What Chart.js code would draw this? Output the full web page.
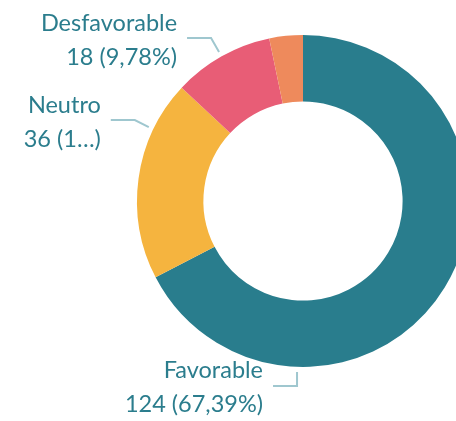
<!DOCTYPE html>
<html>
<head>
<meta charset="utf-8">
<script src="https://cdn.jsdelivr.net/npm/chart.js@4.4.1/dist/chart.umd.min.js"></script>
<style>
  html, body { margin: 0; padding: 0; background: #fff; overflow: hidden; }
  #wrap { width: 472px; height: 421px; }
</style>
</head>
<body>
<div id="wrap"><canvas id="myChart" width="472" height="421"></canvas></div>
<script>
// Datos del gráfico
const categorias = ['Favorable', 'Neutro', 'Desfavorable', 'Sin opinión'];
const valores = [124, 36, 18, 6];
const colores = ['#297d8d', '#f5b43f', '#e85d76', '#ee8a5c'];
// Texto de las etiquetas (la segunda línea viene recortada en el original)
const etiquetas1 = ['Favorable', 'Neutro', 'Desfavorable', null];
const etiquetas2 = ['124 (67,39%)', '36 (1…)', '18 (9,78%)', null];

// Donde toca la línea guía el arco (grados desde arriba, horario) y forma del codo
const guias = [
  { ang: 182, codo: 'vertical', dy: 14, len: 24 },
  { ang: 295.6, codo: 'diag', dx: -14, dy: -7, len: 24 },
  { ang: 330.6, codo: 'diag', dx: -8, dy: -14, len: 24 }
];

const colorTexto = '#2b7d8d';
const colorGuia = '#9fc7cf';

// Plugin para dibujar las etiquetas con línea guía
const etiquetasPlugin = {
  id: 'etiquetas',
  afterDraw(chart) {
    const ctx = chart.ctx;
    const arcs = chart.getDatasetMeta(0).data;
    ctx.save();
    guias.forEach(function(g, i) {
      const arc = arcs[i];
      const p = arc.getProps(['x', 'y', 'outerRadius']);
      const r = p.outerRadius + 5;
      const a = g.ang * Math.PI / 180;
      const tx = p.x + r * Math.sin(a);
      const ty = p.y - r * Math.cos(a);
      let ex, ey;
      if (g.codo === 'vertical') {
        ex = tx; ey = ty + g.dy;
      } else {
        ex = tx + g.dx; ey = ty + g.dy;
      }
      const hx = ex - g.len;
      ctx.strokeStyle = colorGuia;
      ctx.lineWidth = 2;
      ctx.beginPath();
      ctx.moveTo(tx, ty);
      ctx.lineTo(ex, ey);
      ctx.lineTo(hx, ey);
      ctx.stroke();

      ctx.fillStyle = colorTexto;
      ctx.font = '23.5px Lato, "Open Sans", sans-serif';
      ctx.textAlign = 'right';
      ctx.textBaseline = 'middle';
      ctx.fillText(etiquetas1[i], hx - 10, ey - 15);
      ctx.fillText(etiquetas2[i], hx - 10, ey + 19);
    });
    ctx.restore();
  }
};

const ctx = document.getElementById('myChart').getContext('2d');
const chart = new Chart(ctx, {
  type: 'doughnut',
  data: {
    labels: categorias,
    datasets: [{
      data: valores,
      backgroundColor: colores,
      borderWidth: 0
    }]
  },
  options: {
    responsive: false,
    animation: false,
    cutout: '60%',
    layout: { padding: { left: 137, top: 35, right: 3, bottom: 54 } },
    plugins: {
      legend: { display: false },
      tooltip: { enabled: false }
    }
  },
  plugins: [etiquetasPlugin]
});
</script>
</body>
</html>
